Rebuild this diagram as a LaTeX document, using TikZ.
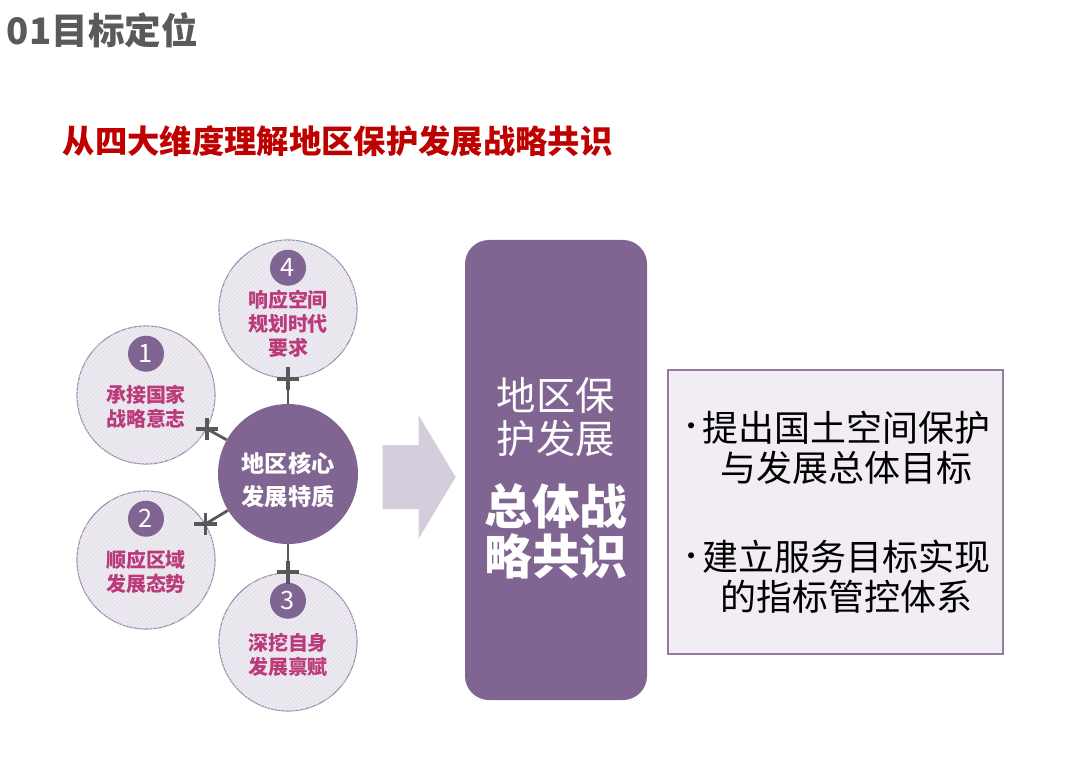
\documentclass[tikz,border=0pt]{standalone}
\usepackage{fontspec}
\setmainfont{Noto Sans CJK SC}
\usepackage{tikz}
\usetikzlibrary{shapes,arrows.meta,positioning,calc,patterns}
\usepackage{xcolor}
\definecolor{dimpurple}{RGB}{128,100,146}
\definecolor{lilacfill}{RGB}{231,227,236}
\definecolor{lilacline}{RGB}{160,145,172}
\definecolor{rosetext}{RGB}{186,58,122}
\definecolor{linkgray}{RGB}{88,88,88}
\definecolor{titlegray}{RGB}{90,90,90}
\definecolor{deepred}{RGB}{190,0,0}
\definecolor{arrowlilac}{RGB}{213,205,219}
\definecolor{panelfill}{RGB}{241,237,243}
\definecolor{panelline}{RGB}{150,122,160}

\begin{document}
\begin{tikzpicture}[
    hub/.style={circle, fill=dimpurple, minimum size=3.5cm, inner sep=0pt, align=center,
                text=white, font=\fontsize{16.5}{24}\selectfont\bfseries},
    dim/.style={circle, draw=lilacline, line width=0.8pt, fill=lilacfill, minimum size=3.45cm, inner sep=0pt,
                postaction={pattern=north east lines, pattern color=white!55!lilacfill}},
    badge/.style={circle, fill=dimpurple, minimum size=0.9cm, inner sep=0pt,
                  text=white, font=\fontsize{18}{18}\selectfont},
    dimtxt/.style={align=center, text=rosetext, inner sep=0pt, font=\fontsize{14.2}{17}\selectfont\bfseries},
    link/.style={draw=linkgray, line width=2pt},
    plus/.style={cross out, draw=linkgray, line width=2.8pt, minimum size=0.3cm, inner sep=0pt, rotate=45},
    fatarrow/.style={single arrow, fill=arrowlilac, minimum height=1.825cm, inner xsep=0pt,
                     inner ysep=0.7875cm, single arrow head extend=0.75cm, single arrow tip angle=118},
    bigbox/.style={rectangle, fill=dimpurple, rounded corners=0.6cm, minimum width=4.55cm,
                   minimum height=11.5cm, align=center, text=white, font=\fontsize{28}{31}\selectfont},
    panel/.style={rectangle, draw=panelline, line width=1.2pt, fill=panelfill, minimum width=8.375cm,
                  minimum height=7.1cm, align=left, font=\fontsize{25.6}{28.5}\selectfont}
]
\useasboundingbox (0,0) rectangle (27,19.1);

\node[anchor=west, text=titlegray, font=\fontsize{26}{26}\selectfont\bfseries] (title) at (0.05,18.35) {01目标定位};
\node[anchor=west, text=deepred, font=\fontsize{23}{23}\selectfont\bfseries] (subtitle) at (1.45,15.575) {从四大维度理解地区保护发展战略共识};

\node[dim] (d4) at (7.2,11.375) {};
\node[dim] (d1) at (3.65,9.225) {};
\node[dim] (d2) at (3.65,5.1) {};
\node[dim] (d3) at (7.2,3.05) {};
\node[hub] (core) at (7.2,7.25) {\rule{0pt}{23pt}地区核心\\发展特质};

\node[badge, below=0.25cm of d1.north] (n1) {1};
\node[badge, below=0.25cm of d2.north] (n2) {2};
\node[badge, below=0.25cm of d3.north] (n3) {3};
\node[badge, below=0.25cm of d4.north] (n4) {4};

\node[dimtxt] (t1) at ($(d1)+(0,-0.3)$) {承接国家\\战略意志};
\node[dimtxt] (t2) at ($(d2)+(0,-0.3)$) {顺应区域\\发展态势};
\node[dimtxt] (t3) at ($(d3)+(0,-0.33)$) {深挖自身\\发展禀赋};
\node[dimtxt] (t4) at ($(d4)+(0,-0.375)$) {响应空间\\规划时代\\要求};

\draw[link] (core) -- (d1) node[pos=1, plus] {};
\draw[link] (core) -- (d2) node[pos=1, plus] {};
\draw[link] (core) -- (d3) node[pos=1, plus] {};
\draw[link] (core) -- (d4) node[pos=1, plus] {};

\node[fatarrow] (push) at (10.24,7.175) {};

\node[bigbox] (goal) at (13.9,7.35) {\rule{0pt}{35pt}地区保\\护发展\\[18pt]\fontsize{34}{36}\selectfont\bfseries 总体战\\[2pt]\fontsize{34}{36}\selectfont\bfseries 略共识};

\node[panel] (aims) at (20.89,6.3) {\makebox[0.6em][c]{\raisebox{3pt}{\fontsize{20}{20}\selectfont•}}提出国土空间保护\\\hspace*{1.1em}与发展总体目标\\[35pt]\makebox[0.6em][c]{\raisebox{3pt}{\fontsize{20}{20}\selectfont•}}建立服务目标实现\\\hspace*{1.1em}的指标管控体系};
\end{tikzpicture}
\end{document}
